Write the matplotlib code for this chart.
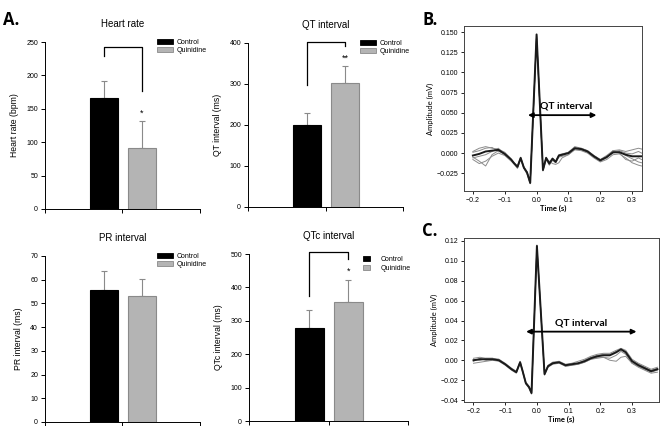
"""Quinidine ECG summary: bar panels (A) and averaged beats (B, C)"""
import matplotlib
matplotlib.use('Agg')
import matplotlib.pyplot as plt
from matplotlib.patches import Patch

# ---- data -------------------------------------------------------------
groups = ['Control', 'Quinidine']

hr_mean = [166, 92]
hr_err = [26, 39]
qt_mean = [200, 303]
qt_err = [30, 42]
pr_mean = [55.5, 53.3]
pr_err = [8.0, 7.2]
qtc_mean = [280, 355]
qtc_err = [53, 67]

# averaged beat, panel B
tB = [-0.20, -0.18, -0.16, -0.14, -0.12, -0.10, -0.08, -0.07, -0.06, -0.05, -0.04,
      -0.03, -0.02, 0.00, 0.02, 0.03, 0.04, 0.05, 0.06, 0.07, 0.08, 0.10, 0.12, 0.14,
      0.16, 0.18, 0.20, 0.22, 0.24, 0.26, 0.28, 0.30, 0.32, 0.33]
ecgB_mean = [-0.003, -0.001, 0.002, 0.003, 0.004, -0.001, -0.008, -0.013, -0.017, -0.006,
             -0.018, -0.024, -0.037, 0.147, -0.021, -0.006, -0.013, -0.007, -0.011, -0.003,
             -0.002, 0.000, 0.006, 0.005, 0.002, -0.004, -0.009, -0.005, 0.001, 0.001,
             -0.002, -0.004, -0.004, -0.004]
ecgB_beat1 = [0.002, 0.006, 0.008, 0.006, 0.005, 0.001, -0.007, -0.012, -0.016, -0.005,
              -0.017, -0.023, -0.036, 0.145, -0.020, -0.005, -0.012, -0.006, -0.010, -0.002,
              -0.001, 0.001, 0.008, 0.006, 0.003, -0.003, -0.008, -0.003, 0.003, 0.004,
              0.002, 0.004, 0.006, 0.005]
ecgB_beat2 = [-0.008, -0.013, -0.010, -0.004, 0.000, -0.003, -0.010, -0.014, -0.019, -0.008,
              -0.019, -0.026, -0.038, 0.143, -0.022, -0.008, -0.015, -0.009, -0.012, -0.005,
              -0.004, -0.002, 0.004, 0.003, 0.000, -0.006, -0.011, -0.008, -0.002, -0.001,
              -0.006, -0.012, -0.015, -0.016]
ecgB_beat3 = [-0.005, -0.010, -0.016, -0.002, 0.003, -0.002, -0.009, -0.013, -0.018, -0.007,
              -0.018, -0.024, -0.036, 0.146, -0.021, -0.007, -0.010, -0.013, -0.014, -0.012,
              -0.006, -0.002, 0.005, 0.006, 0.003, -0.003, -0.008, -0.005, 0.003, 0.000,
              -0.008, -0.010, -0.006, -0.008]
ecgB_beat4 = [0.001, 0.003, 0.006, 0.007, 0.002, 0.000, -0.008, -0.012, -0.017, -0.006,
              -0.017, -0.024, -0.037, 0.144, -0.020, -0.006, -0.012, -0.007, -0.010, -0.003,
              -0.002, 0.001, 0.007, 0.004, 0.001, -0.005, -0.010, -0.006, 0.002, 0.003,
              0.000, -0.001, 0.002, 0.000]
ecgB_beat5 = [-0.006, -0.004, -0.002, 0.002, 0.006, -0.002, -0.008, -0.013, -0.017, -0.007,
              -0.018, -0.025, -0.037, 0.146, -0.022, -0.006, -0.013, -0.008, -0.011, -0.004,
              -0.003, 0.000, 0.005, 0.005, 0.002, -0.004, -0.009, -0.005, 0.000, 0.002,
              -0.003, -0.007, -0.011, -0.012]
qtB = [-0.027, 0.188]

# averaged beat, panel C
tC = [-0.20, -0.18, -0.16, -0.14, -0.12, -0.10, -0.08, -0.065, -0.053, -0.045, -0.035,
      -0.025, -0.017, 0.00, 0.024, 0.035, 0.05, 0.07, 0.09, 0.11, 0.13, 0.15, 0.17, 0.19,
      0.21, 0.23, 0.25, 0.265, 0.28, 0.30, 0.32, 0.34, 0.36, 0.38]
ecgC_mean = [0.000, 0.001, 0.001, 0.001, 0.000, -0.004, -0.009, -0.012, -0.002, -0.011,
             -0.023, -0.027, -0.033, 0.115, -0.014, -0.006, -0.003, -0.002, -0.005, -0.004,
             -0.003, -0.001, 0.002, 0.004, 0.005, 0.005, 0.008, 0.011, 0.008, -0.001,
             -0.005, -0.008, -0.011, -0.009]
ecgC_beat1 = [0.002, 0.003, 0.002, 0.002, 0.001, -0.003, -0.008, -0.011, -0.001, -0.010,
              -0.022, -0.026, -0.032, 0.114, -0.013, -0.005, -0.002, -0.001, -0.004, -0.003,
              -0.001, 0.001, 0.004, 0.006, 0.007, 0.007, 0.010, 0.012, 0.010, 0.001,
              -0.003, -0.006, -0.009, -0.007]
ecgC_beat2 = [-0.003, -0.002, -0.001, 0.000, -0.001, -0.005, -0.010, -0.013, -0.003, -0.012,
              -0.024, -0.028, -0.034, 0.113, -0.015, -0.007, -0.004, -0.003, -0.006, -0.005,
              -0.004, -0.002, 0.001, 0.002, 0.003, 0.002, 0.005, 0.009, 0.006, -0.003,
              -0.007, -0.010, -0.013, -0.012]
ecgC_beat3 = [0.001, 0.000, 0.002, 0.002, 0.000, -0.004, -0.009, -0.012, -0.002, -0.011,
              -0.023, -0.027, -0.033, 0.116, -0.014, -0.006, -0.003, -0.002, -0.006, -0.005,
              -0.004, -0.002, 0.001, 0.003, 0.003, 0.000, -0.001, 0.003, 0.004, -0.003,
              -0.006, -0.009, -0.012, -0.010]
ecgC_beat4 = [-0.001, 0.002, 0.000, 0.001, 0.001, -0.004, -0.009, -0.012, -0.002, -0.011,
              -0.023, -0.027, -0.033, 0.115, -0.014, -0.006, -0.002, -0.002, -0.005, -0.004,
              -0.003, 0.000, 0.003, 0.005, 0.006, 0.006, 0.009, 0.011, 0.009, 0.000,
              -0.004, -0.007, -0.010, -0.008]
qtC = [-0.034, 0.314]

# ---- style ------------------------------------------------------------
plt.rcParams['font.family'] = ['Liberation Sans', 'DejaVu Sans']
BAR_COLORS = ['#000000', '#b4b4b4']
BAR_EDGES = ['#000000', '#8a8a8a']
ERR = '#8a8a8a'
BAR_X = [0.38, 0.625]
BAR_W = 0.185
CALIBRI = ['Lato', 'DejaVu Sans']

fig = plt.figure(figsize=(6.6, 4.26), dpi=100, facecolor='white')


def minus(fmt):
    return matplotlib.ticker.FuncFormatter(lambda v, p: (fmt % v).replace('-', '\u2212'))


def bar_panel(rect, title, ylabel, means, errs, ymax, ystep, star=None, bracket=None,
              square_legend=False):
    ax = fig.add_axes(rect)
    ax.bar(BAR_X, means, width=BAR_W, color=BAR_COLORS, edgecolor=BAR_EDGES,
           linewidth=0.8, zorder=2)
    ax.errorbar(BAR_X, means, yerr=[[0, 0], errs], fmt='none', ecolor=ERR,
                elinewidth=0.8, capsize=2.5, capthick=0.8, zorder=1)
    ax.set_xlim(0, 1)
    ax.set_ylim(0, ymax)
    ax.set_xticks([0, 0.5, 1])
    ax.set_xticklabels([])
    ax.set_yticks(range(0, ymax + 1, ystep))
    ax.tick_params(axis='both', direction='out', length=3, width=0.7,
                   labelsize=5, pad=2)
    for s in ['top', 'right']:
        ax.spines[s].set_visible(False)
    for s in ['left', 'bottom']:
        ax.spines[s].set_linewidth(0.7)
    ax.set_title(title, fontsize=7, pad=11)
    ax.set_ylabel(ylabel, fontsize=6.2, labelpad=5)
    if star:
        label, yv = star
        ax.text(BAR_X[1], yv, label, fontsize=6.5, ha='center', va='center')
    if bracket:
        top, yl, yr = bracket
        ax.plot([BAR_X[0], BAR_X[0], BAR_X[1], BAR_X[1]], [yl, top, top, yr],
                color='black', lw=0.9, clip_on=False)
    handles = [Patch(facecolor=c, edgecolor=e, linewidth=0.6)
               for c, e in zip(BAR_COLORS, BAR_EDGES)]
    if square_legend:
        ax.legend(handles, groups, loc='upper left', bbox_to_anchor=(0.72, 0.99),
                  frameon=False, fontsize=5, handlelength=0.9, handleheight=0.9,
                  handletextpad=1.6, labelspacing=0.25, borderpad=0, borderaxespad=0)
    else:
        ax.legend(handles, groups, loc='upper left', bbox_to_anchor=(0.72, 1.02),
                  frameon=False, fontsize=5, handlelength=2.4, handleheight=0.8,
                  handletextpad=0.5, labelspacing=0.15, borderpad=0, borderaxespad=0)
    return ax


bar_panel([0.0682, 0.5094, 0.2348, 0.392], 'Heart rate', 'Heart rate (bpm)',
          hr_mean, hr_err, 250, 50, star=('*', 143), bracket=(243, 229, 176))
bar_panel([0.3758, 0.5141, 0.2348, 0.385], 'QT interval', 'QT interval (ms)',
          qt_mean, qt_err, 400, 100, star=('**', 362), bracket=(402, 298, 392))
bar_panel([0.0682, 0.0094, 0.2348, 0.3897], 'PR interval', 'PR interval (ms)',
          pr_mean, pr_err, 70, 10)
bar_panel([0.3773, 0.0117, 0.2409, 0.392], 'QTc interval', 'QTc interval (ms)',
          qtc_mean, qtc_err, 500, 100, star=('*', 447), bracket=(505, 375, 486),
          square_legend=True)


def ecg_panel(rect, t, mean, beats, xlim, ylim, yticks, fmt, qt, qt_y, txt_x, txt_y):
    ax = fig.add_axes(rect)
    for b in beats:
        ax.plot(t, b, color='#8c8c8c', lw=0.7, zorder=1)
    ax.plot(t, mean, color='#1a1a1a', lw=1.4, zorder=2)
    ax.set_xlim(*xlim)
    ax.set_ylim(*ylim)
    ax.set_xticks([-0.2, -0.1, 0.0, 0.1, 0.2, 0.3])
    ax.set_yticks(yticks)
    ax.yaxis.set_major_formatter(minus(fmt))
    ax.xaxis.set_major_formatter(minus('%.1f'))
    ax.tick_params(direction='out', length=2.5, width=0.6, labelsize=5, pad=1.5)
    for s in ax.spines.values():
        s.set_linewidth(0.7)
        s.set_color('#444444')
    ax.set_xlabel('Time (s)', fontsize=5.5, fontweight='bold', family=CALIBRI,
                  labelpad=1)
    ax.set_ylabel('Amplitude (mV)', fontsize=5.5, family=CALIBRI, labelpad=2)
    ax.annotate('', xy=(qt[0], qt_y), xytext=(qt[1], qt_y),
                arrowprops=dict(arrowstyle='<|-|>', color='black', lw=1.3,
                                mutation_scale=7, shrinkA=0, shrinkB=0))
    ax.text(txt_x, txt_y, 'QT interval', fontsize=7.5, fontweight='bold',
            family=CALIBRI, ha='center', va='center')
    return ax


ecg_panel([0.7030, 0.5516, 0.2697, 0.3873], tB, ecgB_mean,
          [ecgB_beat1, ecgB_beat2, ecgB_beat3, ecgB_beat4, ecgB_beat5],
          (-0.228, 0.331), (-0.047, 0.1574),
          [-0.025, 0.0, 0.025, 0.05, 0.075, 0.1, 0.125, 0.15], '%.3f',
          qtB, 0.047, 0.092, 0.058)
ecg_panel([0.7030, 0.0563, 0.2955, 0.385], tC, ecgC_mean,
          [ecgC_beat1, ecgC_beat2, ecgC_beat3, ecgC_beat4],
          (-0.23, 0.385), (-0.042, 0.123),
          [-0.04, -0.02, 0.0, 0.02, 0.04, 0.06, 0.08, 0.10, 0.12], '%.2f',
          qtC, 0.0288, 0.138, 0.037)

# panel letters
for x, y, s in [(0.005, 0.975, 'A.'), (0.64, 0.975, 'B.'), (0.64, 0.48, 'C.')]:
    fig.text(x, y, s, fontsize=12, fontweight='bold', family=['Open Sans', 'DejaVu Sans'],
             ha='left', va='top')

fig.savefig('out.png', dpi=100, facecolor='white')
plt.close()
